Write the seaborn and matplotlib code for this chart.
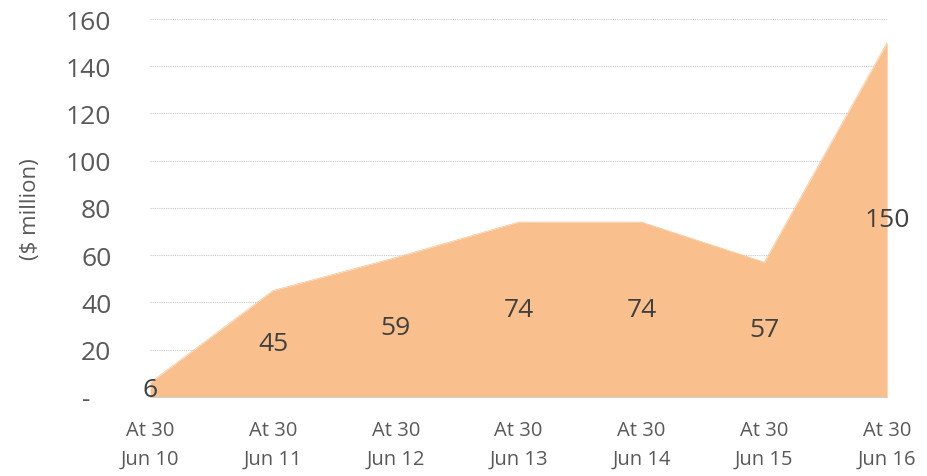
import pandas as pd
import matplotlib.pyplot as plt
import seaborn as sns

# 数据
periods = ['At 30\nJun 10', 'At 30\nJun 11', 'At 30\nJun 12', 'At 30\nJun 13',
           'At 30\nJun 14', 'At 30\nJun 15', 'At 30\nJun 16']
values = [6, 45, 59, 74, 74, 57, 150]

df = pd.DataFrame({'pos': range(len(periods)), 'value': values})

sns.set_style('white')
plt.rcParams['font.family'] = ['Open Sans', 'DejaVu Sans']

fill_color = '#F9C08E'
text_color = '#404040'
tick_color = '#595959'

fig = plt.figure(figsize=(9.27, 4.77), dpi=100)
ax = fig.add_axes([0.162, 0.166, 0.795, 0.792])

sns.lineplot(x='pos', y='value', data=df, color=fill_color, linewidth=0.5, ax=ax)
ax.fill_between(df['pos'], df['value'], color=fill_color, linewidth=0)

# 数据标签放在面积中部
for x, v in zip(df['pos'], df['value']):
    ax.text(x, v / 2, str(v), ha='center', va='center', fontsize=19, color=text_color)

ax.set_xlim(0, len(periods) - 1)
ax.set_ylim(0, 160)
ax.set_xticks(range(len(periods)))
ax.set_xticklabels(periods, fontsize=14.5, color=tick_color, linespacing=1.55)
ax.set_yticks(range(0, 161, 20))
ax.set_yticklabels(['-   '] + [str(t) for t in range(20, 161, 20)], fontsize=19, color=tick_color)
ax.set_xlabel('')
ax.set_ylabel('($ million)', fontsize=16, color=tick_color, labelpad=18)

ax.yaxis.grid(True, linestyle=(0, (1, 1)), color='#C8C8C8', linewidth=0.8)
ax.set_axisbelow(True)
for s in ['top', 'right', 'left']:
    ax.spines[s].set_visible(False)
ax.spines['bottom'].set_color('#D0D0D0')
ax.tick_params(axis='x', length=5, color='#D0D0D0', pad=12)
ax.tick_params(axis='y', length=0, pad=28)

plt.savefig('out.png', dpi=100)
